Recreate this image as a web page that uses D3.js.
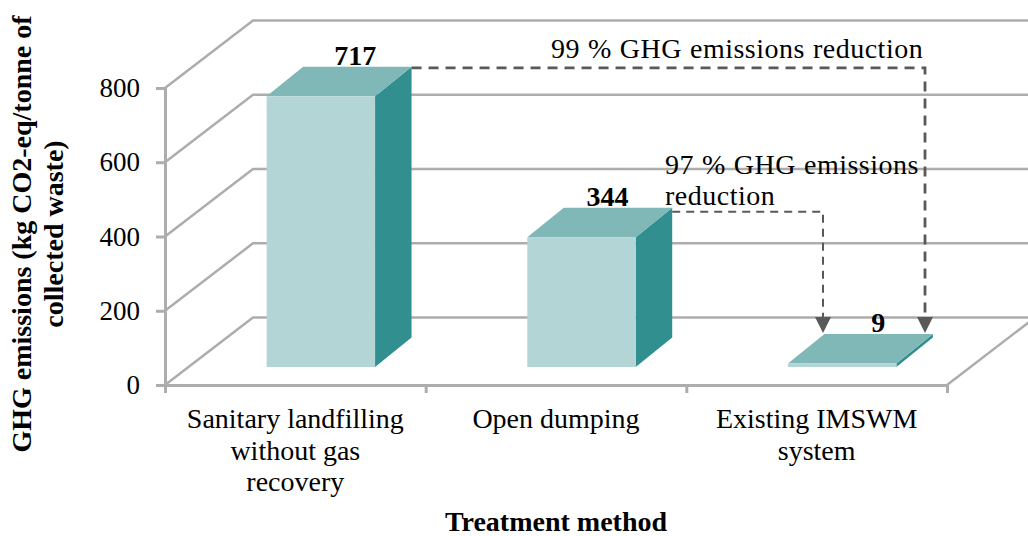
<!DOCTYPE html>
<html>
<head>
<meta charset="utf-8">
<script src="https://cdn.jsdelivr.net/npm/d3@7"></script>
<style>
body { margin: 0; background: #fff; }
text { font-family: "Liberation Serif", serif; fill: #000; }
</style>
</head>
<body>
<script>
const categories = ["Sanitary landfilling|without gas|recovery", "Open dumping", "Existing IMSWM|system"];
const values = [717, 344, 9];
const yTicks = [0, 200, 400, 600, 800];
const yTitleLines = ["GHG emissions (kg CO2-eq/tonne of", "collected waste)"];
const xTitle = "Treatment method";
const reductions = [
  { from: 0, to: 2, lines: ["99 % GHG emissions reduction"] },
  { from: 1, to: 2, lines: ["97 % GHG emissions", "reduction"] }
];

function drawChart() {
  const width = 1028, height = 536;
  const left = 165, right = 947, bottom = 385, top = 88;
  // wall depth of the fake 3d box, and where bars sit inside it
  const wallDx = 88, wallDy = -67.5;
  const barShiftX = 25.5, barShiftY = -18;
  const capDx = 36.5, capDy = -29.5;

  const gridColor = "#adadad", darkLine = "#595959";

  const svg = d3.select("body").append("svg")
    .attr("width", width)
    .attr("height", height)
    .style("display", "block");

  const y = d3.scaleLinear().domain([0, 800]).range([bottom, top]);
  const barHeight = d3.scaleLinear().domain([0, 800]).range([0, 302]);
  const x = d3.scaleBand().domain(categories).range([left, right])
    .paddingInner(0.584).paddingOuter(0.292);
  const xEdges = d3.scaleLinear().domain([0, categories.length]).range([left, right]);

  // walls and grid
  const grid = svg.append("g").attr("fill", "none").attr("stroke", gridColor).attr("stroke-width", 2.5);
  grid.selectAll("polyline.wall")
    .data(yTicks)
    .enter().append("polyline")
    .attr("class", "wall")
    .attr("points", d => `${left},${y(d)} ${left + wallDx},${y(d) + wallDy} ${right + wallDx},${y(d) + wallDy}`);
  grid.append("line")
    .attr("x1", right).attr("y1", bottom)
    .attr("x2", right + wallDx).attr("y2", bottom + wallDy);

  // axes
  const yAxis = svg.append("g")
    .attr("transform", `translate(${left},0)`)
    .call(d3.axisLeft(y).tickValues(yTicks).tickSize(9).tickPadding(16));
  const xAxis = svg.append("g")
    .attr("transform", `translate(0,${bottom})`)
    .call(d3.axisBottom(xEdges).ticks(categories.length).tickSize(8).tickFormat(""));
  [yAxis, xAxis].forEach(a => {
    a.select(".domain").attr("stroke", gridColor).attr("stroke-width", 3);
    a.selectAll(".tick line").attr("stroke", gridColor).attr("stroke-width", 3);
  });
  yAxis.selectAll(".tick text").attr("font-size", 27).attr("font-family", "Liberation Serif").attr("fill", "#000");

  // bars
  const barBase = bottom + barShiftY;
  const bw = x.bandwidth();
  // labels sit a bit off the cap centre, not by the same amount on each bar
  const labelShift = [34.5, 26, 36];
  const bars = svg.selectAll("g.bar")
    .data(values)
    .enter().append("g")
    .attr("class", "bar")
    .attr("transform", (d, i) => `translate(${x(categories[i]) + barShiftX},${barBase})`);
  bars.append("path").attr("fill", "#31908f")
    .attr("d", d => `M${bw},0 L${bw + capDx},${capDy} L${bw + capDx},${-barHeight(d) + capDy} L${bw},${-barHeight(d)} Z`);
  bars.append("path").attr("fill", "#80b8b8")
    .attr("d", d => `M0,${-barHeight(d)} L${capDx},${-barHeight(d) + capDy} L${bw + capDx},${-barHeight(d) + capDy} L${bw},${-barHeight(d)} Z`);
  bars.append("rect").attr("fill", "#b3d5d6")
    .attr("y", d => -barHeight(d))
    .attr("width", bw)
    .attr("height", d => barHeight(d));
  bars.append("text")
    .attr("x", (d, i) => bw / 2 + labelShift[i])
    .attr("y", d => -barHeight(d) + capDy - 2)
    .attr("text-anchor", "middle")
    .attr("font-size", 28)
    .attr("font-weight", "bold")
    .text(d => d);

  // dashed reduction arrows, from a bar's top back corner down to the last bar
  const barTopRight = i => [x(categories[i]) + barShiftX + bw + capDx, barBase - barHeight(values[i]) + capDy];
  const arrowY = barBase - barHeight(values[2]) + capDy - 1;
  const arrows = [
    { start: barTopRight(0), dy: 1, endX: 925, sw: 2.8, dash: "10,7" },
    { start: barTopRight(1), dy: 4, endX: 823, sw: 2, dash: "8,6" }
  ];
  arrows.forEach(a => {
    svg.append("path")
      .attr("fill", "none")
      .attr("stroke", darkLine)
      .attr("stroke-width", a.sw)
      .attr("stroke-dasharray", a.dash)
      .attr("d", `M${a.start[0]},${a.start[1] + a.dy} H${a.endX} V${arrowY - 14}`);
    svg.append("path")
      .attr("fill", darkLine)
      .attr("d", `M${a.endX - 8},${arrowY - 16} H${a.endX + 8} L${a.endX},${arrowY} Z`);
  });

  // annotation text
  const annoPos = [[551, 58], [665, 174]];
  reductions.forEach((r, i) => {
    const t = svg.append("text").attr("font-size", 28).attr("letter-spacing", 0.5).attr("word-spacing", 0.5);
    r.lines.forEach((line, j) => {
      t.append("tspan").attr("x", annoPos[i][0]).attr("y", annoPos[i][1] + j * 31).text(line);
    });
  });

  // category labels
  svg.selectAll("text.cat")
    .data(categories)
    .enter().append("text")
    .attr("class", "cat")
    .attr("text-anchor", "middle")
    .attr("font-size", 28)
    .each(function(d) {
      d3.select(this).selectAll("tspan")
        .data(d.split("|"))
        .enter().append("tspan")
        .attr("x", x(d) + bw / 2)
        .attr("y", (s, j) => 428 + j * 31.5)
        .text(s => s);
    });

  // axis titles
  svg.append("text")
    .attr("x", 556).attr("y", 531)
    .attr("text-anchor", "middle")
    .attr("font-size", 28)
    .attr("font-weight", "bold")
    .text(xTitle);
  svg.selectAll("text.ytitle")
    .data(yTitleLines)
    .enter().append("text")
    .attr("class", "ytitle")
    .attr("transform", (d, i) => `translate(${31 + i * 32},234) rotate(-90)`)
    .attr("text-anchor", "middle")
    .attr("font-size", 28)
    .attr("font-weight", "bold")
    .text(d => d);
}

drawChart();
</script>
</body>
</html>
